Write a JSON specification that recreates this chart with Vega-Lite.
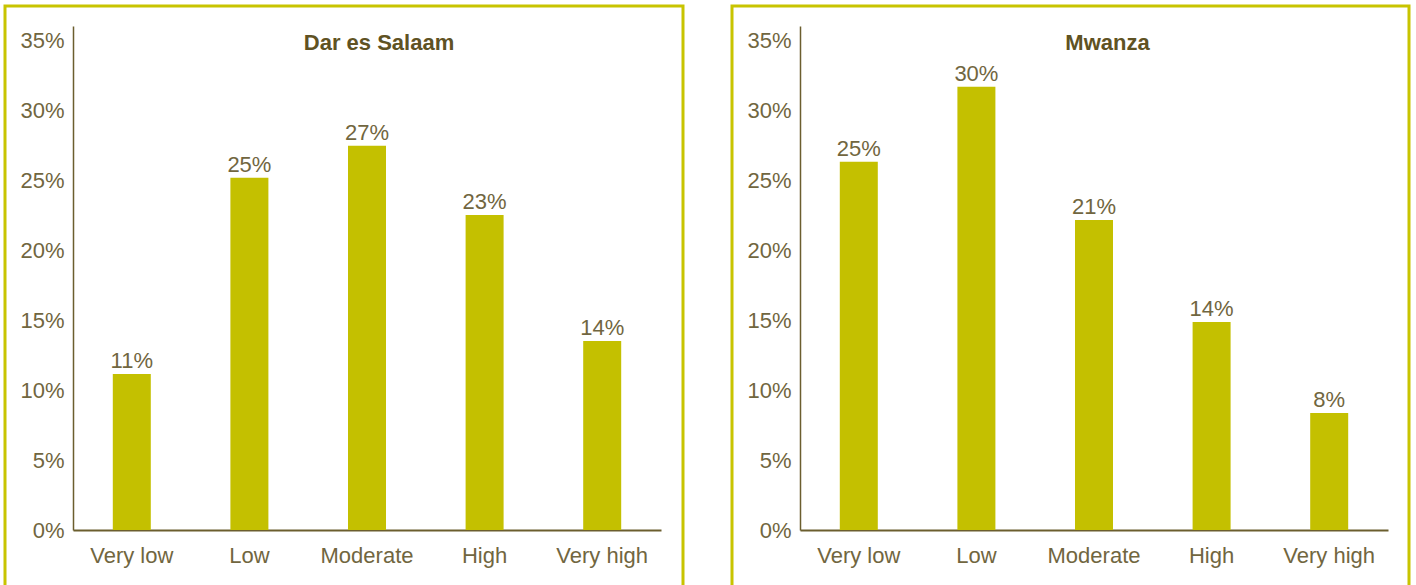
{
  "$schema": "https://vega.github.io/schema/vega-lite/v6.json",
  "padding": {"left": 3, "top": 4, "right": 4, "bottom": 0},
  "datasets": {
    "dsm": [
      {"level": "Very low", "value": 11.14, "label": "11%"},
      {"level": "Low", "value": 25.16, "label": "25%"},
      {"level": "Moderate", "value": 27.45, "label": "27%"},
      {"level": "High", "value": 22.5, "label": "23%"},
      {"level": "Very high", "value": 13.5, "label": "14%"}
    ],
    "mwanza": [
      {"level": "Very low", "value": 26.3, "label": "25%"},
      {"level": "Low", "value": 31.66, "label": "30%"},
      {"level": "Moderate", "value": 22.14, "label": "21%"},
      {"level": "High", "value": 14.86, "label": "14%"},
      {"level": "Very high", "value": 8.36, "label": "8%"}
    ]
  },
  "config": {
    "view": {"stroke": "#c8c400", "strokeWidth": 3},
    "font": "Liberation Sans",
    "concat": {"spacing": 45},
    "axis": {
      "grid": false,
      "ticks": false,
      "title": null,
      "labelColor": "#716640",
      "labelFontSize": 22,
      "domainColor": "#6b5e2e"
    }
  },
  "hconcat": [
    {
      "width": 678,
      "height": 600,
      "data": {"name": "dsm"},
      "title": {"text": "Dar es Salaam", "offset": -66, "dx": 35, "fontSize": 22, "fontWeight": "bold", "color": "#5f5223", "baseline": "alphabetic", "frame": "group"},
      "encoding": {
        "x": {"field": "level", "type": "nominal", "sort": null,
          "scale": {"range": [68, 656], "paddingInner": 0, "paddingOuter": 0},
          "axis": {"orient": "bottom", "offset": -76, "labelAngle": 0, "labelPadding": 15, "domainWidth": 2}},
        "y": {"field": "value", "type": "quantitative",
          "scale": {"domain": [0, 36], "range": [524, 20], "nice": false, "zero": true},
          "axis": {"orient": "left", "offset": -68, "values": [0, 5, 10, 15, 20, 25, 30, 35], "labelExpr": "datum.value + '%'", "labelPadding": 9, "domainWidth": 1.5}}
      },
      "layer": [
        {"mark": {"type": "bar", "width": 38, "color": "#c4c000"}},
        {"mark": {"type": "text", "baseline": "alphabetic", "dy": -6, "fontSize": 22, "color": "#716640"},
         "encoding": {"text": {"field": "label"}}}
      ]
    },
    {
      "width": 677,
      "height": 600,
      "data": {"name": "mwanza"},
      "title": {"text": "Mwanza", "offset": -66, "dx": 37, "fontSize": 22, "fontWeight": "bold", "color": "#5f5223", "baseline": "alphabetic", "frame": "group"},
      "encoding": {
        "x": {"field": "level", "type": "nominal", "sort": null,
          "scale": {"range": [68, 656], "paddingInner": 0, "paddingOuter": 0},
          "axis": {"orient": "bottom", "offset": -76, "labelAngle": 0, "labelPadding": 15, "domainWidth": 2}},
        "y": {"field": "value", "type": "quantitative",
          "scale": {"domain": [0, 36], "range": [524, 20], "nice": false, "zero": true},
          "axis": {"orient": "left", "offset": -68, "values": [0, 5, 10, 15, 20, 25, 30, 35], "labelExpr": "datum.value + '%'", "labelPadding": 9, "domainWidth": 1.5}}
      },
      "layer": [
        {"mark": {"type": "bar", "width": 38, "color": "#c4c000"}},
        {"mark": {"type": "text", "baseline": "alphabetic", "dy": -6, "fontSize": 22, "color": "#716640"},
         "encoding": {"text": {"field": "label"}}}
      ]
    }
  ]
}
